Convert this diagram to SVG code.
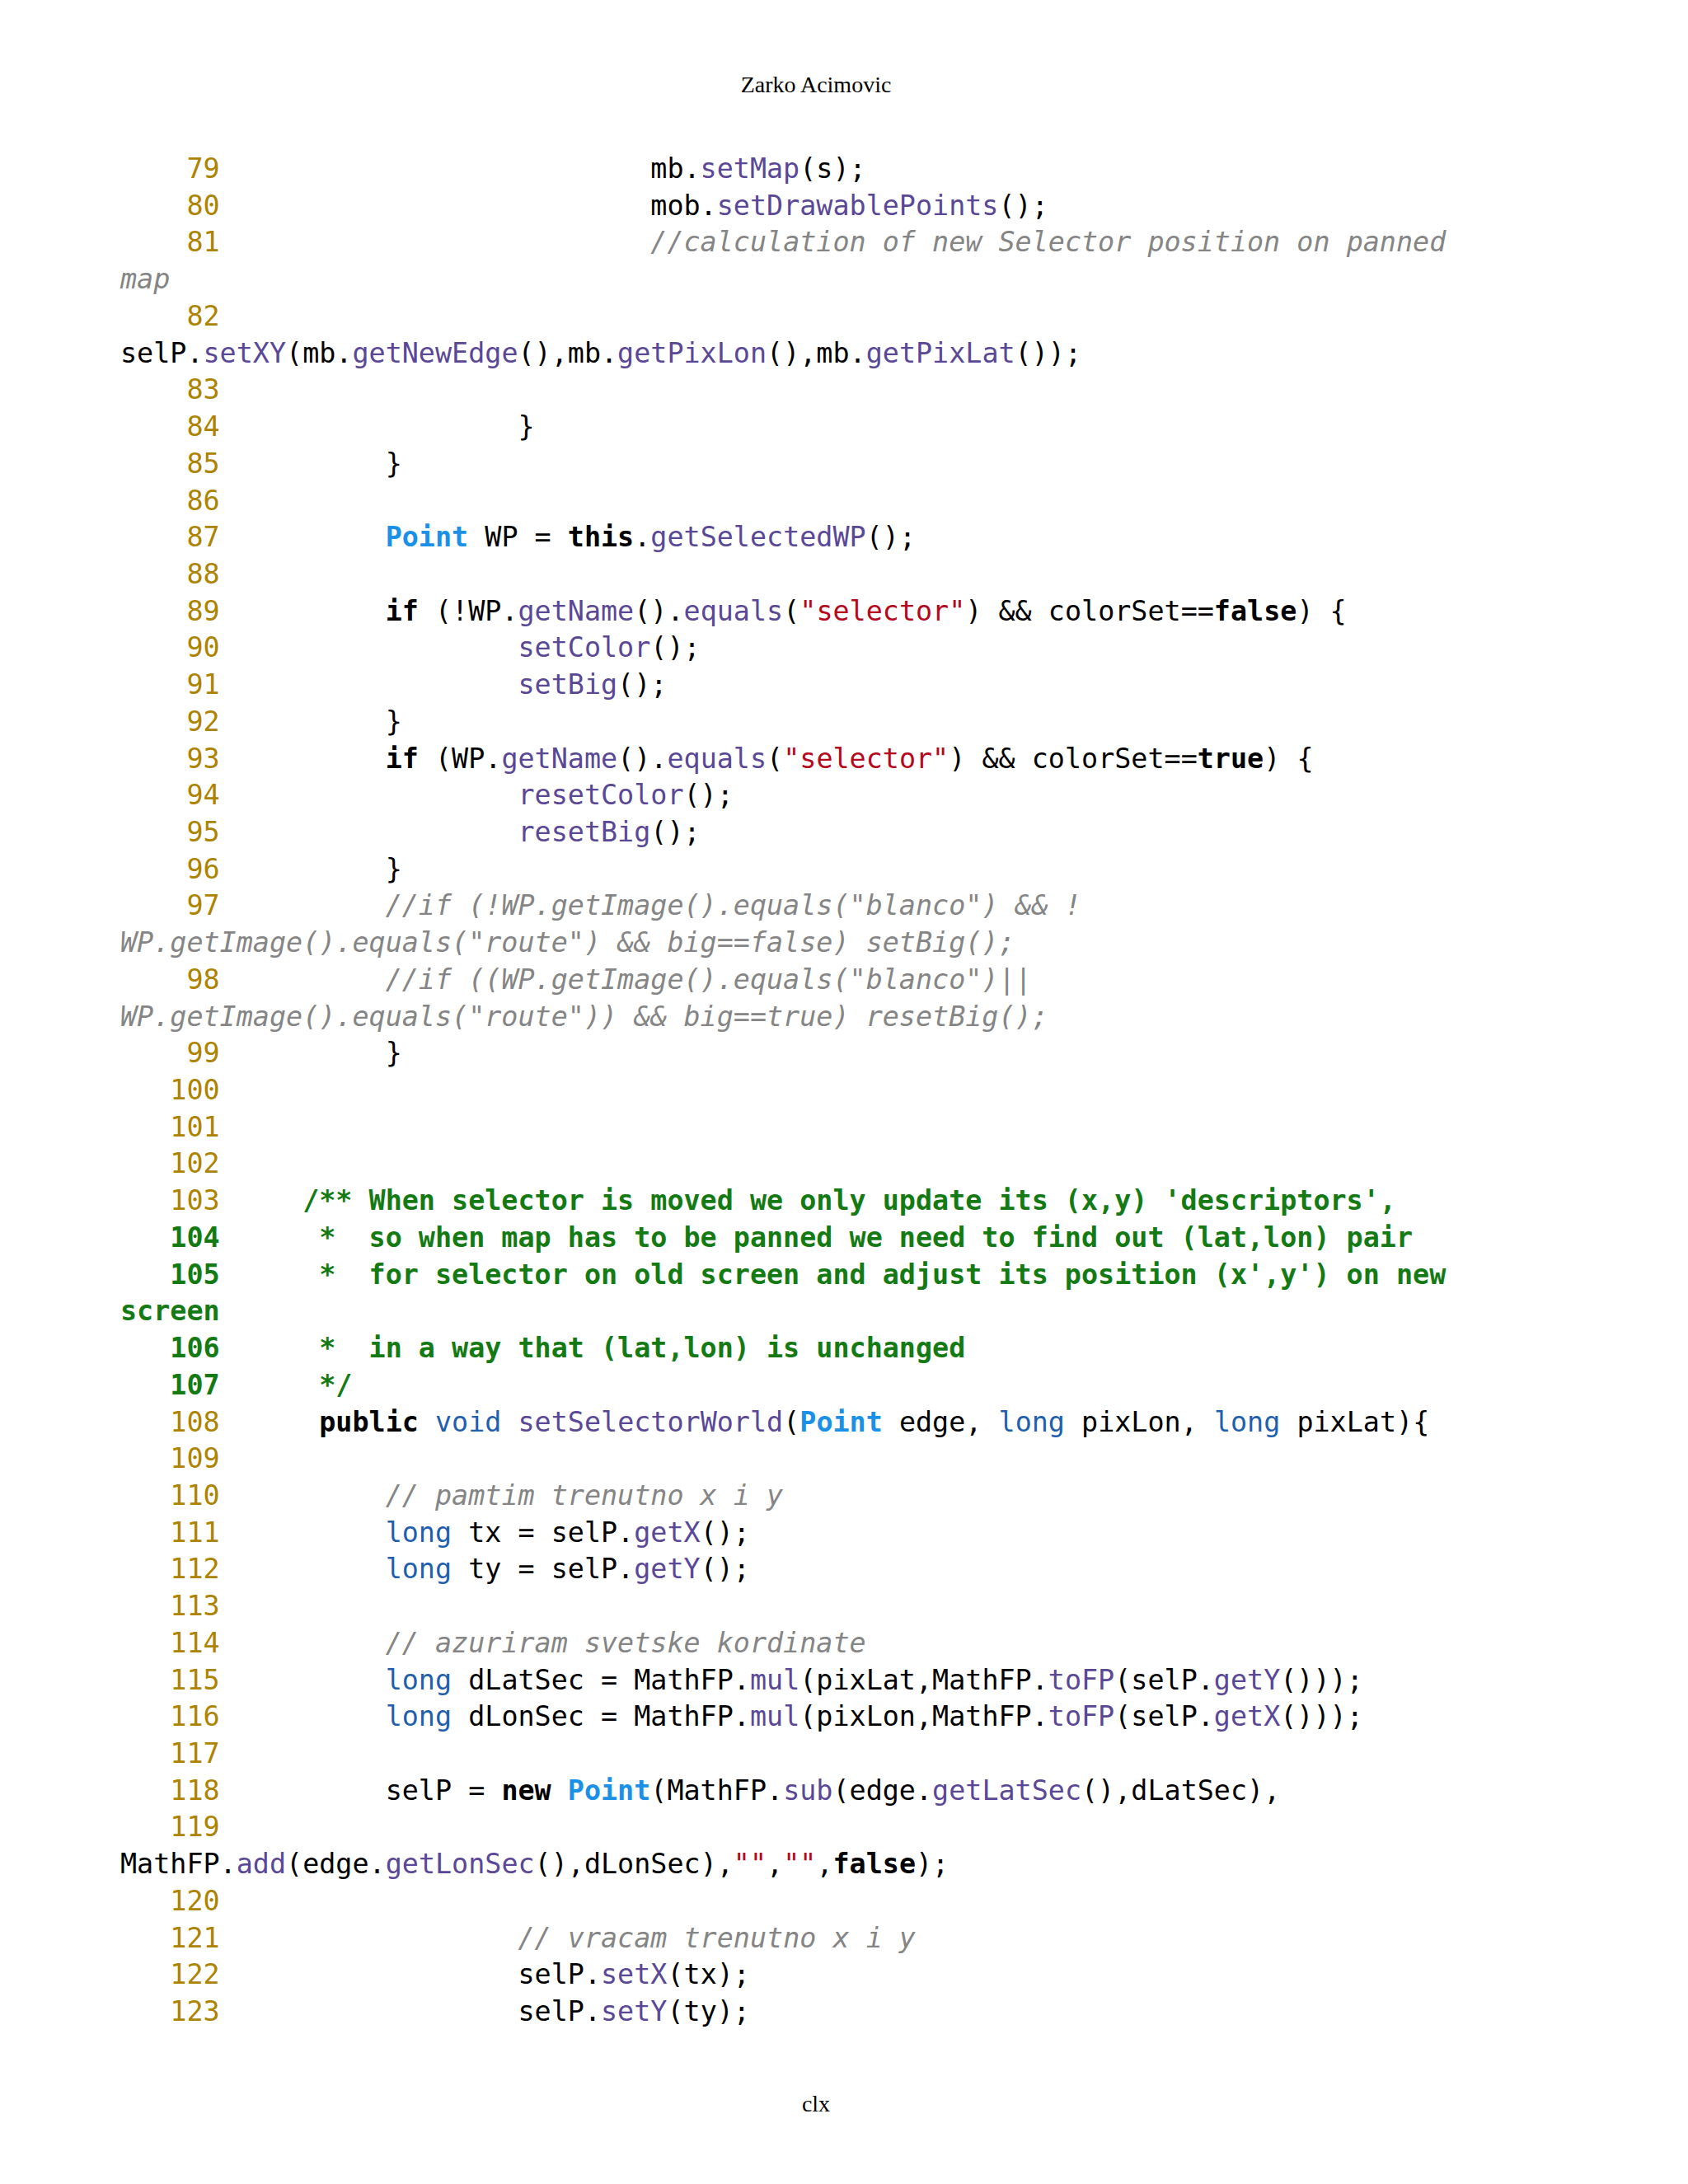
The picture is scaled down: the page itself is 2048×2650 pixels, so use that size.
<svg xmlns="http://www.w3.org/2000/svg" width="2048" height="2650" viewBox="0 0 2048 2650">
<style>
.c{font-family:"DejaVu Sans Mono",monospace;font-size:33.4px;fill:#000;white-space:pre}
.n{fill:#ad8300}
.g{fill:#147a14;font-weight:bold}
.m{fill:#5a4896}
.k{fill:#1f5fad}
.p{fill:#1a90e6;font-weight:bold}
.b{font-weight:bold}
.s{fill:#b5081c}
.i{fill:#858585;font-style:italic}
.h{font-family:"Liberation Serif",serif;font-size:28px;fill:#000}
</style>
<rect width="2048" height="2650" fill="#fff"/>
<text class="h" x="990" y="112" text-anchor="middle">Zarko Acimovic</text>
<text class="h" x="990" y="2562" text-anchor="middle">clx</text>
<g id="code" xml:space="preserve">
<text class="c" x="146" y="216"><tspan class="n">    79</tspan>                          mb.<tspan class="m">setMap</tspan>(s);</text>
<text class="c" x="146" y="260.7"><tspan class="n">    80</tspan>                          mob.<tspan class="m">setDrawablePoints</tspan>();</text>
<text class="c" x="146" y="305.4"><tspan class="n">    81</tspan>                          <tspan class="i">//calculation of new Selector position on panned</tspan></text>
<text class="c" x="146" y="350.2"><tspan class="i">map</tspan></text>
<text class="c" x="146" y="394.9"><tspan class="n">    82</tspan></text>
<text class="c" x="146" y="439.6">selP.<tspan class="m">setXY</tspan>(mb.<tspan class="m">getNewEdge</tspan>(),mb.<tspan class="m">getPixLon</tspan>(),mb.<tspan class="m">getPixLat</tspan>());</text>
<text class="c" x="146" y="484.3"><tspan class="n">    83</tspan></text>
<text class="c" x="146" y="529"><tspan class="n">    84</tspan>                  }</text>
<text class="c" x="146" y="573.8"><tspan class="n">    85</tspan>          }</text>
<text class="c" x="146" y="618.5"><tspan class="n">    86</tspan></text>
<text class="c" x="146" y="663.2"><tspan class="n">    87</tspan>          <tspan class="p">Point</tspan> WP = <tspan class="b">this</tspan>.<tspan class="m">getSelectedWP</tspan>();</text>
<text class="c" x="146" y="707.9"><tspan class="n">    88</tspan></text>
<text class="c" x="146" y="752.6"><tspan class="n">    89</tspan>          <tspan class="b">if</tspan> (!WP.<tspan class="m">getName</tspan>().<tspan class="m">equals</tspan>(<tspan class="s">"selector"</tspan>) &amp;&amp; colorSet==<tspan class="b">false</tspan>) {</text>
<text class="c" x="146" y="797.4"><tspan class="n">    90</tspan>                  <tspan class="m">setColor</tspan>();</text>
<text class="c" x="146" y="842.1"><tspan class="n">    91</tspan>                  <tspan class="m">setBig</tspan>();</text>
<text class="c" x="146" y="886.8"><tspan class="n">    92</tspan>          }</text>
<text class="c" x="146" y="931.5"><tspan class="n">    93</tspan>          <tspan class="b">if</tspan> (WP.<tspan class="m">getName</tspan>().<tspan class="m">equals</tspan>(<tspan class="s">"selector"</tspan>) &amp;&amp; colorSet==<tspan class="b">true</tspan>) {</text>
<text class="c" x="146" y="976.2"><tspan class="n">    94</tspan>                  <tspan class="m">resetColor</tspan>();</text>
<text class="c" x="146" y="1021"><tspan class="n">    95</tspan>                  <tspan class="m">resetBig</tspan>();</text>
<text class="c" x="146" y="1065.7"><tspan class="n">    96</tspan>          }</text>
<text class="c" x="146" y="1110.4"><tspan class="n">    97</tspan>          <tspan class="i">//if (!WP.getImage().equals("blanco") &amp;&amp; !</tspan></text>
<text class="c" x="146" y="1155.1"><tspan class="i">WP.getImage().equals("route") &amp;&amp; big==false) setBig();</tspan></text>
<text class="c" x="146" y="1199.8"><tspan class="n">    98</tspan>          <tspan class="i">//if ((WP.getImage().equals("blanco")||</tspan></text>
<text class="c" x="146" y="1244.6"><tspan class="i">WP.getImage().equals("route")) &amp;&amp; big==true) resetBig();</tspan></text>
<text class="c" x="146" y="1289.3"><tspan class="n">    99</tspan>          }</text>
<text class="c" x="146" y="1334"><tspan class="n">   100</tspan></text>
<text class="c" x="146" y="1378.7"><tspan class="n">   101</tspan></text>
<text class="c" x="146" y="1423.4"><tspan class="n">   102</tspan></text>
<text class="c" x="146" y="1468.2"><tspan class="n">   103</tspan>     <tspan class="g">/** When selector is moved we only update its (x,y) 'descriptors',</tspan></text>
<text class="c" x="146" y="1512.9"><tspan class="g">   104      *  so when map has to be panned we need to find out (lat,lon) pair</tspan></text>
<text class="c" x="146" y="1557.6"><tspan class="g">   105      *  for selector on old screen and adjust its position (x',y') on new</tspan></text>
<text class="c" x="146" y="1602.3"><tspan class="g">screen</tspan></text>
<text class="c" x="146" y="1647"><tspan class="g">   106      *  in a way that (lat,lon) is unchanged</tspan></text>
<text class="c" x="146" y="1691.8"><tspan class="g">   107      */</tspan></text>
<text class="c" x="146" y="1736.5"><tspan class="n">   108</tspan>      <tspan class="b">public</tspan> <tspan class="k">void</tspan> <tspan class="m">setSelectorWorld</tspan>(<tspan class="p">Point</tspan> edge, <tspan class="k">long</tspan> pixLon, <tspan class="k">long</tspan> pixLat){</text>
<text class="c" x="146" y="1781.2"><tspan class="n">   109</tspan></text>
<text class="c" x="146" y="1825.9"><tspan class="n">   110</tspan>          <tspan class="i">// pamtim trenutno x i y</tspan></text>
<text class="c" x="146" y="1870.6"><tspan class="n">   111</tspan>          <tspan class="k">long</tspan> tx = selP.<tspan class="m">getX</tspan>();</text>
<text class="c" x="146" y="1915.4"><tspan class="n">   112</tspan>          <tspan class="k">long</tspan> ty = selP.<tspan class="m">getY</tspan>();</text>
<text class="c" x="146" y="1960.1"><tspan class="n">   113</tspan></text>
<text class="c" x="146" y="2004.8"><tspan class="n">   114</tspan>          <tspan class="i">// azuriram svetske kordinate</tspan></text>
<text class="c" x="146" y="2049.5"><tspan class="n">   115</tspan>          <tspan class="k">long</tspan> dLatSec = MathFP.<tspan class="m">mul</tspan>(pixLat,MathFP.<tspan class="m">toFP</tspan>(selP.<tspan class="m">getY</tspan>()));</text>
<text class="c" x="146" y="2094.2"><tspan class="n">   116</tspan>          <tspan class="k">long</tspan> dLonSec = MathFP.<tspan class="m">mul</tspan>(pixLon,MathFP.<tspan class="m">toFP</tspan>(selP.<tspan class="m">getX</tspan>()));</text>
<text class="c" x="146" y="2139"><tspan class="n">   117</tspan></text>
<text class="c" x="146" y="2183.7"><tspan class="n">   118</tspan>          selP = <tspan class="b">new</tspan> <tspan class="p">Point</tspan>(MathFP.<tspan class="m">sub</tspan>(edge.<tspan class="m">getLatSec</tspan>(),dLatSec),</text>
<text class="c" x="146" y="2228.4"><tspan class="n">   119</tspan></text>
<text class="c" x="146" y="2273.1">MathFP.<tspan class="m">add</tspan>(edge.<tspan class="m">getLonSec</tspan>(),dLonSec),<tspan class="s">""</tspan>,<tspan class="s">""</tspan>,<tspan class="b">false</tspan>);</text>
<text class="c" x="146" y="2317.8"><tspan class="n">   120</tspan></text>
<text class="c" x="146" y="2362.6"><tspan class="n">   121</tspan>                  <tspan class="i">// vracam trenutno x i y</tspan></text>
<text class="c" x="146" y="2407.3"><tspan class="n">   122</tspan>                  selP.<tspan class="m">setX</tspan>(tx);</text>
<text class="c" x="146" y="2452"><tspan class="n">   123</tspan>                  selP.<tspan class="m">setY</tspan>(ty);</text>
</g>
</svg>
